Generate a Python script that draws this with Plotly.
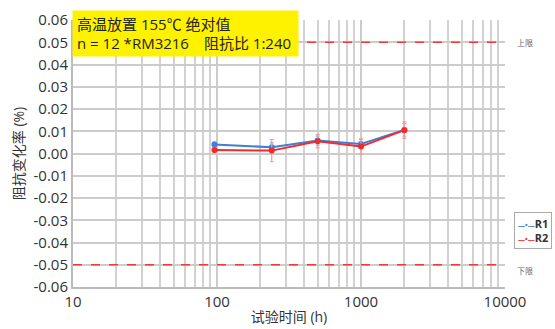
import plotly.graph_objects as go

# Test time (h) and resistance change (%) for two resistors
hours = [96, 240, 500, 1000, 2000]
r1_mean = [0.0041, 0.0028, 0.0058, 0.0043, 0.0106]
r1_err = [0.0010, 0.0020, 0.0020, 0.0020, 0.0028]
r2_mean = [0.0016, 0.0013, 0.0055, 0.0031, 0.0105]
r2_err = [0.0012, 0.0050, 0.0030, 0.0035, 0.0037]
limit_upper = 0.05
limit_lower = -0.05

y_ticks = [0.06, 0.05, 0.04, 0.03, 0.02, 0.01, 0.0, -0.01, -0.02, -0.03, -0.04, -0.05, -0.06]
y_ticktext = ["%.2f" % v for v in y_ticks]
x_ticks = [10, 100, 1000, 10000]

BLUE = "#3f7fd8"
RED = "#f22a2a"
FONT = "Open Sans, Noto Sans CJK SC"
CJK = "Noto Sans CJK SC"

fig = go.Figure()

fig.add_trace(go.Scatter(
    x=hours, y=r1_mean, name="R1", mode="lines+markers",
    line=dict(color=BLUE, width=2), marker=dict(color=BLUE, size=6),
    error_y=dict(type="data", array=r1_err, color="#8fb4ea", thickness=1.2, width=2),
))
fig.add_trace(go.Scatter(
    x=hours, y=r2_mean, name="R2", mode="lines+markers",
    line=dict(color=RED, width=2), marker=dict(color=RED, size=6),
    error_y=dict(type="data", array=r2_err, color="#f59a9a", thickness=1.2, width=2),
))

# Upper and lower limits
for lim in (limit_upper, limit_lower):
    fig.add_hline(y=lim, line=dict(color="#f03a3a", width=1.5, dash="dash"))

fig.add_annotation(x=1.0, y=limit_upper, xref="paper", yref="y", text="上限",
                   showarrow=False, xanchor="left", xshift=10,
                   font=dict(family=CJK, size=8, color="#666666"))
fig.add_annotation(x=1.0, y=limit_lower, xref="paper", yref="y", text="下限",
                   showarrow=False, xanchor="left", xshift=10, yshift=-6,
                   font=dict(family=CJK, size=8, color="#666666"))

# Compact legend box, right-aligned to the page edge
def legend_row(color, label):
    return (f"<span style='color:{color};font-size:7px'><b>—•—</b></span>"
            f"<b>{label}</b>")

legend_text = legend_row(BLUE, "R1") + "<br>" + legend_row(RED, "R2")
fig.add_annotation(
    x=1.0, y=0.28, xref="paper", yref="paper", xanchor="right", yanchor="top",
    xshift=47, showarrow=False, align="left", text=legend_text,
    font=dict(family=FONT, size=11, color="#333333"),
    bordercolor="#aaaaaa", borderwidth=1, borderpad=3, bgcolor="white",
)

# Condition box
fig.add_annotation(
    x=0, y=1.0, xref="paper", yref="paper", xanchor="left", yanchor="top",
    yshift=10, xshift=-1, showarrow=False, align="left",
    text="高温放置 155℃ 绝对值<br>n = 12 *RM3216　阻抗比 1:240",
    font=dict(family=FONT, size=15, color="#222222"),
    bgcolor="#fff200", width=217, height=37, borderpad=4,
)

fig.update_layout(
    width=555, height=329,
    margin=dict(l=73, r=50, t=20, b=42, autoexpand=False),
    paper_bgcolor="white", plot_bgcolor="white",
    font=dict(family=FONT, size=15, color="#333333"),
    showlegend=False,
)

fig.update_xaxes(
    type="log", range=[1, 4],
    tickvals=x_ticks, ticktext=[str(v) for v in x_ticks],
    showgrid=True, gridcolor="#cccccc", gridwidth=2,
    minor=dict(dtick="D1", showgrid=True, gridcolor="#d2d2d2", gridwidth=2),
    showline=True, linecolor="#bbbbbb", linewidth=2,
    ticks="", tickfont=dict(size=15, color="#333333"),
    title=dict(text="试验时间 (h)", font=dict(size=14, color="#333333"), standoff=2),
    zeroline=False,
)
fig.update_yaxes(
    range=[-0.06, 0.06], tickvals=y_ticks, ticktext=y_ticktext,
    showgrid=True, gridcolor="#cccccc", gridwidth=2,
    showline=True, linecolor="#bbbbbb", linewidth=2,
    ticks="", tickfont=dict(size=15, color="#333333"),
    title=dict(text="阻抗变化率 (%)", font=dict(size=14, color="#333333"), standoff=6),
    zeroline=False,
)

fig.write_html("out.html")
